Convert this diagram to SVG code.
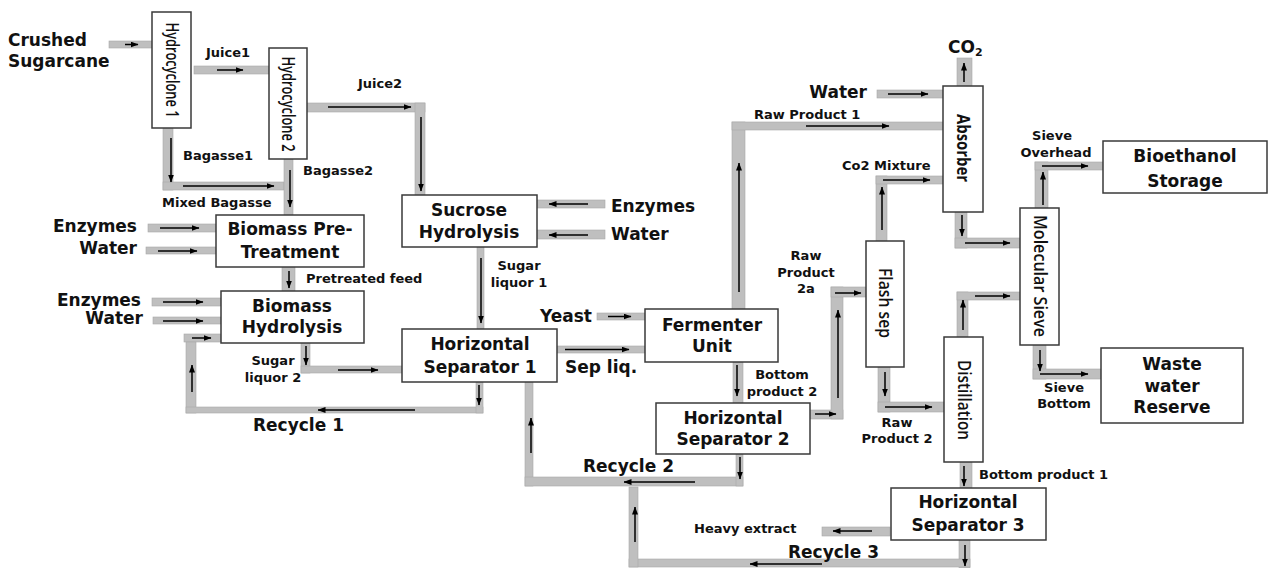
<svg xmlns="http://www.w3.org/2000/svg" width="1269" height="568" viewBox="0 0 1269 568">
<defs>
<marker id="ah" markerUnits="userSpaceOnUse" markerWidth="8" markerHeight="6" refX="7.5" refY="3" orient="auto">
<path d="M0,0 L8,3 L0,6 z" fill="#000"/>
</marker>
<style>
.pipe{fill:#bfbfbf;stroke:#a8a8a8;stroke-width:0.6}
.arr{stroke:#000;stroke-width:1.5;fill:none;marker-end:url(#ah)}
.box{fill:#fff;stroke:#3a3a3a;stroke-width:1.5}
text{font-family:"DejaVu Sans",sans-serif;font-weight:bold;fill:#111}
.L{font-size:17px}
.S{font-size:13px}
.c{text-anchor:middle}
.e{text-anchor:end}
.rot{font-family:"Open Sans","Liberation Sans",sans-serif;font-weight:600;font-size:18px;text-anchor:middle}
</style>
</defs>
<rect width="1269" height="568" fill="#fff"/>

<g id="connectors">
<rect class="pipe" x="109" y="41" width="43" height="7"/>
<rect class="pipe" x="194" y="66" width="75" height="8"/>
<rect class="pipe" x="163" y="128" width="10" height="62"/>
<rect class="pipe" x="163" y="182" width="121" height="8"/>
<rect class="pipe" x="284" y="159" width="9" height="56"/>
<rect class="pipe" x="307" y="103" width="118" height="9"/>
<rect class="pipe" x="415" y="103" width="10" height="92"/>
<rect class="pipe" x="148" y="224" width="68" height="8"/>
<rect class="pipe" x="146" y="247" width="70" height="7"/>
<rect class="pipe" x="282" y="267" width="13" height="24"/>
<rect class="pipe" x="152" y="298" width="69" height="8"/>
<rect class="pipe" x="153" y="317" width="68" height="7"/>
<rect class="pipe" x="184" y="334" width="37" height="8"/>
<rect class="pipe" x="186" y="342" width="10" height="71"/>
<rect class="pipe" x="186" y="407" width="297" height="6"/>
<rect class="pipe" x="476" y="382" width="7" height="31"/>
<rect class="pipe" x="301" y="343" width="9" height="30"/>
<rect class="pipe" x="301" y="366" width="101" height="7"/>
<rect class="pipe" x="537" y="200" width="68" height="8"/>
<rect class="pipe" x="537" y="230" width="68" height="9"/>
<rect class="pipe" x="477" y="247" width="7" height="82"/>
<rect class="pipe" x="597" y="313" width="48" height="7"/>
<rect class="pipe" x="557" y="346" width="88" height="7"/>
<rect class="pipe" x="525" y="382" width="8" height="104"/>
<rect class="pipe" x="525" y="477" width="218" height="9"/>
<rect class="pipe" x="736" y="454" width="7" height="32"/>
<rect class="pipe" x="733" y="362" width="10" height="41"/>
<rect class="pipe" x="732" y="122" width="13" height="187"/>
<rect class="pipe" x="732" y="122" width="211" height="8"/>
<rect class="pipe" x="877" y="90" width="66" height="8"/>
<rect class="pipe" x="957" y="58" width="15" height="28"/>
<rect class="pipe" x="876" y="176" width="11" height="65"/>
<rect class="pipe" x="876" y="176" width="67" height="8"/>
<rect class="pipe" x="810" y="410" width="33" height="9"/>
<rect class="pipe" x="831" y="287" width="12" height="132"/>
<rect class="pipe" x="831" y="287" width="35" height="10"/>
<rect class="pipe" x="878" y="367" width="12" height="45"/>
<rect class="pipe" x="878" y="402" width="66" height="10"/>
<rect class="pipe" x="955" y="212" width="12" height="36"/>
<rect class="pipe" x="955" y="238" width="65" height="10"/>
<rect class="pipe" x="957" y="292" width="11" height="45"/>
<rect class="pipe" x="957" y="292" width="63" height="8"/>
<rect class="pipe" x="1035" y="162" width="13" height="46"/>
<rect class="pipe" x="1035" y="162" width="68" height="8"/>
<rect class="pipe" x="1033" y="345" width="13" height="34"/>
<rect class="pipe" x="1033" y="369" width="68" height="10"/>
<rect class="pipe" x="960" y="462" width="12" height="26"/>
<rect class="pipe" x="959" y="540" width="11" height="28"/>
<rect class="pipe" x="629" y="559" width="341" height="8"/>
<rect class="pipe" x="629" y="487" width="9" height="80"/>
<rect class="pipe" x="822" y="527" width="68" height="9"/>
<line class="arr" x1="125" y1="44.5" x2="138" y2="44.5"/>
<line class="arr" x1="217" y1="70" x2="243" y2="70"/>
<line class="arr" x1="171" y1="138" x2="171" y2="182"/>
<line class="arr" x1="183" y1="186" x2="274" y2="186"/>
<line class="arr" x1="290" y1="170" x2="290" y2="207"/>
<line class="arr" x1="328" y1="107" x2="411" y2="107"/>
<line class="arr" x1="421" y1="117" x2="421" y2="191"/>
<line class="arr" x1="160" y1="228" x2="199" y2="228"/>
<line class="arr" x1="158" y1="251" x2="197" y2="251"/>
<line class="arr" x1="289" y1="271" x2="289" y2="288"/>
<line class="arr" x1="163" y1="302" x2="203" y2="302"/>
<line class="arr" x1="163" y1="321" x2="203" y2="321"/>
<line class="arr" x1="192" y1="338" x2="211" y2="338"/>
<line class="arr" x1="192" y1="392" x2="192" y2="365"/>
<line class="arr" x1="415" y1="410" x2="318" y2="410"/>
<line class="arr" x1="479" y1="385" x2="479" y2="405"/>
<line class="arr" x1="306" y1="346" x2="306" y2="365"/>
<line class="arr" x1="338" y1="370" x2="378" y2="370"/>
<line class="arr" x1="588" y1="204" x2="549" y2="204"/>
<line class="arr" x1="588" y1="235" x2="549" y2="235"/>
<line class="arr" x1="481" y1="258" x2="481" y2="323"/>
<line class="arr" x1="608" y1="316.5" x2="631" y2="316.5"/>
<line class="arr" x1="565" y1="349.5" x2="629" y2="349.5"/>
<line class="arr" x1="531" y1="453" x2="531" y2="418"/>
<line class="arr" x1="695" y1="482" x2="624" y2="482"/>
<line class="arr" x1="740" y1="457" x2="740" y2="479"/>
<line class="arr" x1="737" y1="365" x2="737" y2="396"/>
<line class="arr" x1="739" y1="292" x2="739" y2="163"/>
<line class="arr" x1="806" y1="126" x2="889" y2="126"/>
<line class="arr" x1="888" y1="94" x2="928" y2="94"/>
<line class="arr" x1="964" y1="82" x2="964" y2="63"/>
<line class="arr" x1="882" y1="230" x2="882" y2="187"/>
<line class="arr" x1="883" y1="180" x2="930" y2="180"/>
<line class="arr" x1="815" y1="414" x2="836" y2="414"/>
<line class="arr" x1="838" y1="398" x2="838" y2="310"/>
<line class="arr" x1="835" y1="293" x2="861" y2="293"/>
<line class="arr" x1="885" y1="372" x2="885" y2="396"/>
<line class="arr" x1="885" y1="407" x2="932" y2="407"/>
<line class="arr" x1="962" y1="215" x2="962" y2="236"/>
<line class="arr" x1="965" y1="243" x2="1010" y2="243"/>
<line class="arr" x1="963" y1="330" x2="963" y2="300"/>
<line class="arr" x1="975" y1="296" x2="1010" y2="296"/>
<line class="arr" x1="1043" y1="205" x2="1043" y2="172"/>
<line class="arr" x1="1042" y1="166" x2="1088" y2="166"/>
<line class="arr" x1="1040" y1="350" x2="1040" y2="371"/>
<line class="arr" x1="1040" y1="374" x2="1088" y2="374"/>
<line class="arr" x1="964" y1="466" x2="964" y2="486"/>
<line class="arr" x1="872" y1="531" x2="833" y2="531"/>
<line class="arr" x1="965" y1="545" x2="965" y2="566"/>
<line class="arr" x1="822" y1="564" x2="750" y2="564"/>
<line class="arr" x1="635" y1="542" x2="635" y2="507"/>
</g>

<g id="labels">
<text class="L" x="8" y="46">Crushed</text>
<text class="L" x="8" y="67">Sugarcane</text>
<text class="S" x="206" y="57">Juice1</text>
<text class="S" x="183" y="160">Bagasse1</text>
<text class="S" x="358" y="88">Juice2</text>
<text class="S" x="303" y="175">Bagasse2</text>
<text class="S" x="162" y="207">Mixed Bagasse</text>
<text class="L e" x="137" y="232">Enzymes</text>
<text class="L e" x="137" y="254">Water</text>
<text class="S" x="306" y="283">Pretreated feed</text>
<text class="L e" x="141" y="306">Enzymes</text>
<text class="L e" x="143" y="324">Water</text>
<text class="S c" x="273" y="365">Sugar</text>
<text class="S c" x="273" y="382">liquor 2</text>
<text class="L" x="253" y="431">Recycle 1</text>
<text class="L" x="611" y="212">Enzymes</text>
<text class="L" x="611" y="240">Water</text>
<text class="S c" x="519" y="270">Sugar</text>
<text class="S c" x="519" y="287">liquor 1</text>
<text class="L e" x="592" y="322">Yeast</text>
<text class="L" x="565" y="373">Sep liq.</text>
<text class="S c" x="782" y="379">Bottom</text>
<text class="S c" x="782" y="396">product 2</text>
<text class="S c" x="806" y="260">Raw</text>
<text class="S c" x="806" y="277">Product</text>
<text class="S c" x="806" y="293">2a</text>
<text class="L" x="583" y="472">Recycle 2</text>
<text class="S" x="694" y="533">Heavy extract</text>
<text class="L" x="788" y="558">Recycle 3</text>
<text class="S" x="979" y="479">Bottom product 1</text>
<text class="S c" x="897" y="427">Raw</text>
<text class="S c" x="897" y="443">Product 2</text>
<text class="L e" x="867" y="98">Water</text>
<text class="S" x="754" y="119">Raw Product 1</text>
<text class="S" x="842" y="170">Co2 Mixture</text>
<text class="L" x="948" y="53">CO<tspan font-size="11" dy="3">2</tspan></text>
<text class="S c" x="1052" y="140">Sieve</text>
<text class="S c" x="1056" y="157">Overhead</text>
<text class="S c" x="1064" y="392">Sieve</text>
<text class="S c" x="1064" y="408">Bottom</text>
</g>

<g id="hydrocyclone1">
<rect class="box" x="152" y="12" width="39" height="116"/>
<text class="rot" transform="translate(171.5,70) rotate(90)" dy="6" textLength="95" lengthAdjust="spacingAndGlyphs">Hydrocyclone 1</text>
</g>
<g id="hydrocyclone2">
<rect class="box" x="269" y="48" width="38" height="111"/>
<text class="rot" transform="translate(288,104) rotate(90)" dy="6" textLength="95" lengthAdjust="spacingAndGlyphs">Hydrocyclone 2</text>
</g>
<g id="biomass-pretreatment">
<rect class="box" x="216" y="215" width="148" height="52"/>
<text class="L c" x="290" y="235">Biomass Pre-</text>
<text class="L c" x="290" y="258">Treatment</text>
</g>
<g id="biomass-hydrolysis">
<rect class="box" x="221" y="291" width="143" height="52"/>
<text class="L c" x="292" y="312">Biomass</text>
<text class="L c" x="292" y="333">Hydrolysis</text>
</g>
<g id="sucrose-hydrolysis">
<rect class="box" x="402" y="195" width="135" height="52"/>
<text class="L c" x="469" y="216">Sucrose</text>
<text class="L c" x="469" y="238">Hydrolysis</text>
</g>
<g id="horizontal-separator-1">
<rect class="box" x="402" y="329" width="155" height="53"/>
<text class="L c" x="480" y="350">Horizontal</text>
<text class="L c" x="480" y="373">Separator 1</text>
</g>
<g id="fermenter-unit">
<rect class="box" x="645" y="309" width="133" height="53"/>
<text class="L c" x="712" y="331">Fermenter</text>
<text class="L c" x="712" y="352">Unit</text>
</g>
<g id="horizontal-separator-2">
<rect class="box" x="656" y="403" width="154" height="51"/>
<text class="L c" x="733" y="424">Horizontal</text>
<text class="L c" x="733" y="445">Separator 2</text>
</g>
<g id="flash-sep">
<rect class="box" x="866" y="241" width="38" height="126"/>
<text class="rot" transform="translate(885,303) rotate(90)" dy="6" textLength="70" lengthAdjust="spacingAndGlyphs">Flash sep</text>
</g>
<g id="absorber">
<rect class="box" x="943" y="86" width="40" height="126"/>
<text class="rot" style="font-weight:bold" transform="translate(963,148) rotate(90)" dy="6" textLength="68" lengthAdjust="spacingAndGlyphs">Absorber</text>
</g>
<g id="distillation">
<rect class="box" x="944" y="337" width="39" height="125"/>
<text class="rot" transform="translate(963.5,400) rotate(90)" dy="6" textLength="80" lengthAdjust="spacingAndGlyphs">Distillation</text>
</g>
<g id="molecular-sieve">
<rect class="box" x="1020" y="208" width="39" height="137"/>
<text class="rot" transform="translate(1039.5,276) rotate(90)" dy="6" textLength="122" lengthAdjust="spacingAndGlyphs">Molecular Sieve</text>
</g>
<g id="horizontal-separator-3">
<rect class="box" x="891" y="488" width="155" height="52"/>
<text class="L c" x="968" y="508">Horizontal</text>
<text class="L c" x="968" y="531">Separator 3</text>
</g>
<g id="bioethanol-storage">
<rect class="box" x="1103" y="141" width="164" height="52"/>
<text class="L c" x="1185" y="162">Bioethanol</text>
<text class="L c" x="1185" y="187">Storage</text>
</g>
<g id="waste-water-reserve">
<rect class="box" x="1101" y="348" width="142" height="75"/>
<text class="L c" x="1172" y="370">Waste</text>
<text class="L c" x="1172" y="392">water</text>
<text class="L c" x="1172" y="413">Reserve</text>
</g>
</svg>
